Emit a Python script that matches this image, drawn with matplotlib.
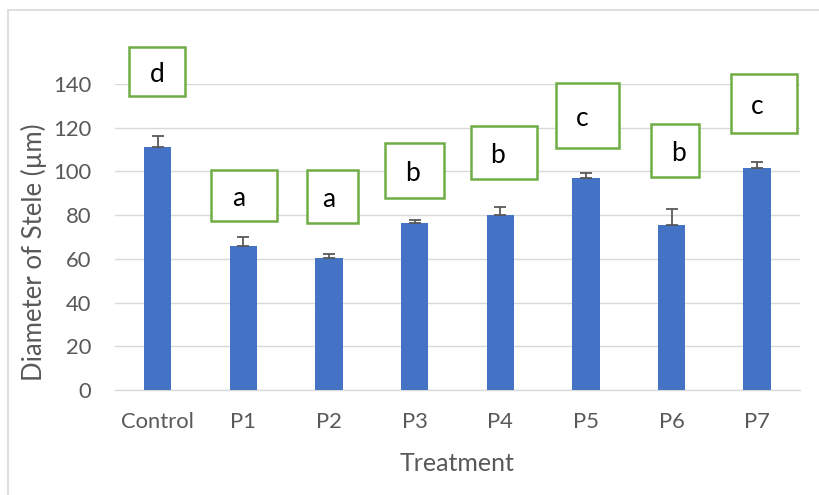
import matplotlib
matplotlib.use("Agg")
import matplotlib.pyplot as plt
from matplotlib.patches import Rectangle
from matplotlib.lines import Line2D
import numpy as np

plt.rcParams['font.family'] = ['Lato', 'DejaVu Sans']

# Data
treatments = ['Control', 'P1', 'P2', 'P3', 'P4', 'P5', 'P6', 'P7']
means = [111.2, 65.9, 60.4, 76.4, 79.9, 97.1, 75.5, 101.7]
errors = [5.0, 4.2, 1.6, 1.5, 4.0, 2.3, 7.4, 2.7]
letters = ['d', 'a', 'a', 'b', 'b', 'c', 'b', 'c']

x = np.arange(len(treatments))

fig = plt.figure(figsize=(8.2, 4.95), dpi=100)
ax = fig.add_axes([0.1402, 0.2121, 0.8354, 0.6182])

# bars with upper error bars only
ax.bar(x, means, width=0.32, color='#4472C4', zorder=3)
ax.errorbar(x, means, yerr=[np.zeros(len(means)), errors], fmt='none',
            ecolor='#595959', elinewidth=1.3, capsize=4.5, capthick=1.3, zorder=4)

# significance letter boxes (centre x offset, centre y, width, height)
box_dx = [-0.01, 0.01, 0.04, 0.0, 0.04, 0.02, 0.04, 0.08]
box_y = [145.7, 89.0, 88.5, 100.4, 108.6, 125.6, 109.5, 131.1]
box_w = [0.65, 0.77, 0.60, 0.69, 0.77, 0.74, 0.55, 0.77]
box_h = [22.4, 23.3, 24.2, 25.2, 24.2, 29.7, 24.2, 27.0]
text_dx = [0.0, -0.06, -0.04, -0.03, -0.07, -0.06, 0.04, -0.08]
for i, lab in enumerate(letters):
    cx = x[i] + box_dx[i]
    ax.add_patch(Rectangle((cx - box_w[i] / 2, box_y[i] - box_h[i] / 2), box_w[i], box_h[i],
                           facecolor='white', edgecolor='#70AD47', lw=1.8,
                           clip_on=False, zorder=5))
    ax.text(cx + text_dx[i], box_y[i] - 1.5, lab, ha='center', va='center', fontsize=19,
            color='black', zorder=6)

ax.set_xlim(-0.5, len(treatments) - 0.5)
ax.set_ylim(0, 140)
ax.set_yticks(np.arange(0, 141, 20))
ax.set_xticks(x)
ax.set_xticklabels(treatments)
ax.yaxis.grid(True, color='#d9d9d9', lw=1.0, zorder=0)
ax.set_axisbelow(True)
for s in ['top', 'right', 'left']:
    ax.spines[s].set_visible(False)
ax.spines['bottom'].set_color('#d9d9d9')
ax.spines['bottom'].set_linewidth(1.0)
ax.tick_params(axis='both', length=0, labelsize=15.8, labelcolor='#595959')
ax.tick_params(axis='y', pad=17)
ax.tick_params(axis='x', pad=16)

ax.set_xlabel('Treatment', fontsize=18, color='#595959')
ax.xaxis.set_label_coords(0.5, -0.203)
ax.set_ylabel('Diameter of Stele (µm)', fontsize=18.5, color='#595959')
ax.yaxis.set_label_coords(-0.099, 0.45)

# outer chart border (top and left visible)
fig.add_artist(Line2D([8 / 820, 8 / 820], [0, 1 - 10 / 495], transform=fig.transFigure,
                      color='#d9d9d9', lw=1.2))
fig.add_artist(Line2D([8 / 820, 1], [1 - 10 / 495, 1 - 10 / 495], transform=fig.transFigure,
                      color='#d9d9d9', lw=1.2))

fig.savefig('out.png', dpi=100)
